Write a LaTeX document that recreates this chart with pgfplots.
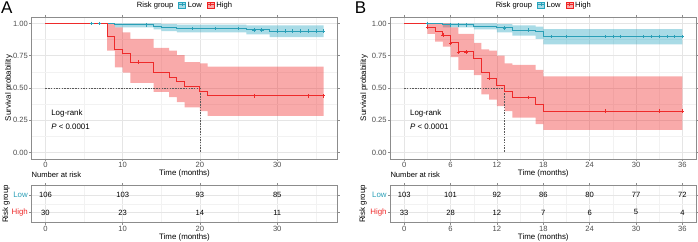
\documentclass[border=0pt]{standalone}
\usepackage{fontspec}
\setmainfont{Liberation Sans}
\usepackage{pgfplots}
\usepackage{pgfplotstable}
\pgfplotsset{compat=1.18}

\definecolor{lowline}{HTML}{2A9FB7}
\definecolor{lowband}{HTML}{27A6C0}
\definecolor{highline}{HTML}{EE2A2A}
\definecolor{highband}{HTML}{F02020}
\definecolor{ticktext}{HTML}{4D4D4D}
\definecolor{framec}{HTML}{8C8C8C}

% Kaplan-Meier survival estimates (time, survival)
\pgfplotstableread{
t s
0 1
9 0.99
14 0.98
15 0.965
17 0.96
26 0.95
29 0.94
36 0.94
}\lowA
\pgfplotstableread{
t s
0 1
8 0.90
9 0.80
10 0.767
11 0.70
14 0.62
16 0.585
17 0.55
18 0.51
20 0.475
21 0.44
36 0.44
}\highA
\pgfplotstableread{
t s
0 1
5 0.99
9 0.98
12 0.965
14 0.948
17 0.934
18 0.898
36 0.898
}\lowB
\pgfplotstableread{
t s
0 1
3 0.97
4 0.94
5 0.91
6 0.85
7 0.78
9 0.73
10 0.62
11 0.575
12 0.52
13 0.475
14 0.427
17 0.375
18 0.32
36 0.32
}\highB

% numbers at risk: time, row (2 = Low, 1 = High), count
\pgfplotstableread{
t row n
0 2 106
10 2 103
20 2 93
30 2 85
0 1 30
10 1 23
20 1 14
30 1 11
}\riskA
\pgfplotstableread{
t row n
0 2 103
6 2 101
12 2 92
18 2 86
24 2 80
30 2 77
36 2 72
0 1 33
6 1 28
12 1 12
18 1 7
24 1 6
30 1 5
36 1 4
}\riskB

\newcommand\smallfont{\fontsize{7.6}{9}\selectfont}
\newcommand\labelfont{\fontsize{7.9}{9.5}\selectfont}

\pgfplotsset{
  common/.style={
    scale only axis, anchor=south west, width=306pt,
    xmin=-1.8, xmax=37.8,
    axis line style={framec, line width=0.6pt},
    tick align=outside, major tick length=2pt, minor tick length=0pt,
    tick style={framec, line width=0.5pt},
    grid=both,
    major grid style={black!10, line width=0.5pt},
    minor grid style={black!5, line width=0.3pt},
    ticklabel style={font=\smallfont, text=ticktext},
    xticklabel style={inner sep=1pt},
    yticklabel style={inner sep=1.5pt},
    label style={font=\labelfont, text=black},
    /pgf/number format/assume math mode=true,
    xlabel={Time (months)},
    xlabel style={at={(axis description cs:0.5,0)}, anchor=center, yshift=-14.6pt},
  },
  mainax/.style={common, height=142pt, ymin=-0.05, ymax=1.05,
    ytick={0,0.25,0.5,0.75,1}, yticklabels={0.00,0.25,0.50,0.75,1.00},
    minor ytick={0.125,0.375,0.625,0.875},
    ylabel={Survival probability},
    legend style={at={(0.5,1)}, anchor=south, yshift=6pt, draw=none, fill=none,
      inner sep=0pt, legend columns=-1, font=\smallfont,
      /tikz/every even column/.append style={column sep=3pt}},
  },
  riskax/.style={common, height=37.7pt, ymin=0.4, ymax=2.6,
    ytick={1,2}, minor ytick={1.5},
    yticklabels={\textcolor{highline}{High},\textcolor{lowline}{Low}},
    yticklabel style={font=\labelfont},
    ylabel={Risk group},
    title={Number at risk},
    title style={at={(axis description cs:0,1)}, anchor=south west, inner sep=1pt,
      xshift=-1pt, font=\smallfont},
  },
  lowkey/.style={legend image code/.code={
      \fill[lowband, fill opacity=0.4] (0pt,-3pt) rectangle (7pt,3pt);
      \draw[lowline, line width=0.6pt] (0pt,1pt) -- (7pt,1pt);
      \draw[lowline, line width=0.5pt] (3.5pt,-0.6pt) -- (3.5pt,2.6pt);}},
  highkey/.style={legend image code/.code={
      \fill[highband, fill opacity=0.38] (0pt,-3pt) rectangle (7pt,3pt);
      \draw[highline, line width=0.6pt] (0pt,1pt) -- (7pt,1pt);
      \draw[highline, line width=0.5pt] (3.5pt,-0.6pt) -- (3.5pt,2.6pt);}},
  curve/.style={forget plot, const plot, line width=1pt},
  cens/.style={forget plot, only marks, mark=+, mark size=1.8pt, mark options={line width=0.55pt}},
  band/.style={forget plot, draw=none, mark=none},
  median/.style={forget plot, black!65, line width=0.5pt, dash pattern=on 1.5pt off 1.2pt},
  counts/.style={forget plot, draw=none, mark=none, nodes near coords,
    point meta=explicit symbolic,
    nodes near coords style={anchor=center, font=\smallfont, text=black}},
}

\begin{document}
\begin{tikzpicture}[x=1pt, y=1pt]

% ---------------- panel A ----------------
\node[font=\fontsize{17}{17}\selectfont, inner sep=0pt] at (6.7,233.5) {A};
\begin{axis}[mainax, at={(31.5pt,82pt)}, xtick={0,10,20,30}, minor xtick={5,15,25,35},
  ylabel style={at={(axis description cs:-0.074,0.5)}, anchor=center}]
  % 95% confidence bands (upper limit forward, lower limit back)
  \addplot[band, fill=lowband, fill opacity=0.4] coordinates {
    (9,1) (15,1) (15,0.995) (17,0.995) (17,0.99) (26,0.99) (26,0.985) (36,0.985)
    (36,0.895) (29,0.895) (29,0.915) (26,0.915) (26,0.93) (17,0.93) (17,0.94) (15,0.94)
    (15,0.955) (14,0.955) (14,0.97) (9,0.97)};
  \addplot[band, fill=highband, fill opacity=0.38] coordinates {
    (8,1) (9,1) (9,0.97) (10,0.97) (10,0.93) (11,0.93) (11,0.88) (14,0.88) (14,0.81)
    (16,0.81) (16,0.79) (17,0.79) (17,0.755) (18,0.755) (18,0.70) (20,0.70) (20,0.69)
    (21,0.69) (21,0.665) (36,0.665)
    (36,0.285) (21,0.285) (21,0.32) (20,0.32) (20,0.35) (18,0.35) (18,0.39) (17,0.39)
    (17,0.43) (16,0.43) (16,0.47) (14,0.47) (14,0.54) (11,0.54) (11,0.62) (10,0.62)
    (10,0.66) (9,0.66) (9,0.79) (8,0.79)};
  \addplot[median] coordinates {(0,0.5) (20,0.5)};
  \addplot[median] coordinates {(20,0.5) (20,0)};
  \addplot[curve, lowline] table[x=t, y=s] {\lowA};
  \addplot[curve, highline] table[x=t, y=s] {\highA};
  \addplot[cens, lowline] coordinates {(6,1) (7,1) (13,0.99) (19,0.96) (22,0.96) (25,0.96)
    (27,0.95) (28,0.95) (30,0.94) (31,0.94) (32,0.94) (33,0.94) (34,0.94) (35,0.94) (36,0.94)};
  \addplot[cens, highline] coordinates {(12,0.70) (27,0.44) (34,0.44) (36,0.44)};
  \node[anchor=west, font=\labelfont, inner sep=0pt] at (axis cs:0.74,0.30) {Log-rank};
  \node[anchor=west, font=\labelfont, inner sep=0pt] at (axis cs:0.74,0.20) {\textit{P} < 0.0001};
  \addlegendimage{empty legend}\addlegendentry{Risk group}
  \addlegendimage{lowkey}\addlegendentry{Low}
  \addlegendimage{highkey}\addlegendentry{High}
\end{axis}
\begin{axis}[riskax, at={(31.5pt,18.3pt)}, xtick={0,10,20,30}, minor xtick={5,15,25,35},
  ylabel style={at={(axis description cs:-0.083,0.5)}, anchor=center}]
  \addplot[counts] table[x=t, y=row, meta=n] {\riskA};
\end{axis}

% ---------------- panel B ----------------
\node[font=\fontsize{17}{17}\selectfont, inner sep=0pt] at (360.5,233.5) {B};
\begin{axis}[mainax, at={(390.3pt,82pt)}, xtick={0,6,...,36}, minor xtick={3,9,...,33},
  ylabel style={at={(axis description cs:-0.086,0.5)}, anchor=center}]
  \addplot[band, fill=lowband, fill opacity=0.4] coordinates {
    (5,1) (12,1) (12,0.995) (14,0.995) (14,0.985) (17,0.985) (17,0.975) (18,0.975)
    (18,0.956) (36,0.956)
    (36,0.838) (18,0.838) (18,0.88) (17,0.88) (17,0.905) (14,0.905) (14,0.93) (12,0.93)
    (12,0.955) (9,0.955) (9,0.97) (5,0.97)};
  \addplot[band, fill=highband, fill opacity=0.38] coordinates {
    (3,1) (6,1) (6,0.97) (7,0.97) (7,0.92) (9,0.92) (9,0.85) (10,0.85) (10,0.80)
    (11,0.80) (11,0.79) (12,0.79) (12,0.75) (13,0.75) (13,0.69) (14,0.69) (14,0.68)
    (17,0.68) (17,0.64) (18,0.64) (18,0.59) (36,0.59)
    (36,0.175) (18,0.175) (18,0.22) (17,0.22) (17,0.27) (14,0.27) (14,0.32) (13,0.32)
    (13,0.36) (12,0.36) (12,0.41) (11,0.41) (11,0.45) (10,0.45) (10,0.60) (9,0.60)
    (9,0.64) (7,0.64) (7,0.74) (6,0.74) (6,0.82) (5,0.82) (5,0.86) (4,0.86) (4,0.92) (3,0.92)};
  \addplot[median] coordinates {(0,0.5) (13,0.5)};
  \addplot[median] coordinates {(13,0.5) (13,0)};
  \addplot[curve, lowline] table[x=t, y=s] {\lowB};
  \addplot[curve, highline] table[x=t, y=s] {\highB};
  \addplot[cens, lowline] coordinates {(3,1) (6,0.99) (7,0.99) (8,0.99) (13,0.965) (16,0.948)
    (19,0.898) (21,0.898) (26,0.898) (27,0.898) (28,0.898) (31,0.898) (32,0.898) (33,0.898)
    (34,0.898) (35,0.898) (36,0.898)};
  \addplot[cens, highline] coordinates {(3,0.97) (5,0.91) (6,0.85) (7,0.78) (8,0.78) (11,0.575)
    (16,0.427) (26,0.32) (33,0.32) (36,0.32)};
  \node[anchor=west, font=\labelfont, inner sep=0pt] at (axis cs:0.74,0.30) {Log-rank};
  \node[anchor=west, font=\labelfont, inner sep=0pt] at (axis cs:0.74,0.20) {\textit{P} < 0.0001};
  \addlegendimage{empty legend}\addlegendentry{Risk group}
  \addlegendimage{lowkey}\addlegendentry{Low}
  \addlegendimage{highkey}\addlegendentry{High}
\end{axis}
\begin{axis}[riskax, at={(390.3pt,18.3pt)}, xtick={0,6,...,36}, minor xtick={3,9,...,33},
  ylabel style={at={(axis description cs:-0.089,0.5)}, anchor=center}]
  \addplot[counts] table[x=t, y=row, meta=n] {\riskB};
\end{axis}

% page frame
\pgfresetboundingbox
\path[use as bounding box] (0pt,0pt) rectangle (698pt,241pt);
\end{tikzpicture}
\end{document}
